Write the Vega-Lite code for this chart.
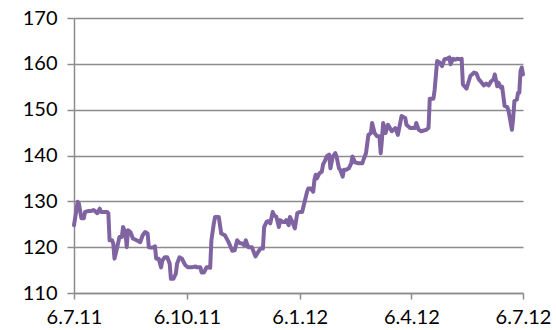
{
  "$schema": "https://vega.github.io/schema/vega-lite/v6.json",
  "width": 449,
  "height": 275,
  "autosize": {"type": "none"},
  "padding": {"left": 74, "top": 18, "right": 33, "bottom": 37},
  "background": "white",
  "config": {
    "view": {"stroke": null},
    "axis": {
      "domainColor": "#8c8c8c",
      "domainWidth": 1.5,
      "tickColor": "#8c8c8c",
      "tickWidth": 1.5,
      "gridColor": "#8c8c8c",
      "gridWidth": 1.5,
      "gridOpacity": 1,
      "labelFont": "Lato",
      "labelFontSize": 20,
      "labelColor": "#000000",
      "title": null
    }
  },
  "data": {
    "values": [
      {"date": "2011-07-06T00:00", "value": 124.8},
      {"date": "2011-07-08T00:00", "value": 128.1},
      {"date": "2011-07-09T00:00", "value": 129.9},
      {"date": "2011-07-10T00:00", "value": 129.5},
      {"date": "2011-07-12T00:00", "value": 126.3},
      {"date": "2011-07-14T00:00", "value": 126.3},
      {"date": "2011-07-15T00:00", "value": 127.7},
      {"date": "2011-07-18T00:00", "value": 127.9},
      {"date": "2011-07-20T00:00", "value": 127.9},
      {"date": "2011-07-22T00:00", "value": 128.1},
      {"date": "2011-07-23T00:00", "value": 127.9},
      {"date": "2011-07-25T00:00", "value": 127.4},
      {"date": "2011-07-27T00:00", "value": 128.4},
      {"date": "2011-07-28T00:00", "value": 127.7},
      {"date": "2011-07-30T00:00", "value": 127.7},
      {"date": "2011-08-02T00:00", "value": 127.7},
      {"date": "2011-08-03T00:00", "value": 127.4},
      {"date": "2011-08-04T00:00", "value": 121.5},
      {"date": "2011-08-06T00:00", "value": 121.5},
      {"date": "2011-08-07T00:00", "value": 120.8},
      {"date": "2011-08-08T00:00", "value": 117.5},
      {"date": "2011-08-10T00:00", "value": 119.7},
      {"date": "2011-08-12T00:00", "value": 122.2},
      {"date": "2011-08-14T00:00", "value": 122.2},
      {"date": "2011-08-15T00:00", "value": 124.4},
      {"date": "2011-08-17T00:00", "value": 123.0},
      {"date": "2011-08-18T00:00", "value": 120.0},
      {"date": "2011-08-19T00:00", "value": 123.7},
      {"date": "2011-08-21T00:00", "value": 123.3},
      {"date": "2011-08-23T00:00", "value": 121.9},
      {"date": "2011-08-26T00:00", "value": 121.5},
      {"date": "2011-08-29T00:00", "value": 121.1},
      {"date": "2011-08-31T00:00", "value": 122.6},
      {"date": "2011-09-02T00:00", "value": 123.3},
      {"date": "2011-09-04T00:00", "value": 123.0},
      {"date": "2011-09-05T00:00", "value": 120.0},
      {"date": "2011-09-07T00:00", "value": 119.9},
      {"date": "2011-09-09T00:00", "value": 120.0},
      {"date": "2011-09-10T00:00", "value": 120.2},
      {"date": "2011-09-11T00:00", "value": 117.5},
      {"date": "2011-09-13T00:00", "value": 117.5},
      {"date": "2011-09-15T00:00", "value": 115.6},
      {"date": "2011-09-16T00:00", "value": 117.1},
      {"date": "2011-09-18T00:00", "value": 117.8},
      {"date": "2011-09-20T00:00", "value": 117.8},
      {"date": "2011-09-22T00:00", "value": 116.4},
      {"date": "2011-09-23T00:00", "value": 113.1},
      {"date": "2011-09-25T00:00", "value": 113.1},
      {"date": "2011-09-27T00:00", "value": 114.2},
      {"date": "2011-09-28T00:00", "value": 116.4},
      {"date": "2011-09-30T00:00", "value": 117.8},
      {"date": "2011-10-02T00:00", "value": 117.5},
      {"date": "2011-10-04T00:00", "value": 116.4},
      {"date": "2011-10-05T00:00", "value": 116.0},
      {"date": "2011-10-07T00:00", "value": 115.6},
      {"date": "2011-10-10T00:00", "value": 115.6},
      {"date": "2011-10-13T00:00", "value": 115.8},
      {"date": "2011-10-14T00:00", "value": 115.6},
      {"date": "2011-10-17T00:00", "value": 115.6},
      {"date": "2011-10-18T00:00", "value": 114.5},
      {"date": "2011-10-20T00:00", "value": 114.5},
      {"date": "2011-10-22T00:00", "value": 115.6},
      {"date": "2011-10-23T00:00", "value": 115.6},
      {"date": "2011-10-25T00:00", "value": 115.5},
      {"date": "2011-10-26T00:00", "value": 121.5},
      {"date": "2011-10-28T00:00", "value": 125.2},
      {"date": "2011-10-29T00:00", "value": 126.6},
      {"date": "2011-10-31T00:00", "value": 126.6},
      {"date": "2011-11-01T00:00", "value": 126.6},
      {"date": "2011-11-03T00:00", "value": 123.0},
      {"date": "2011-11-06T00:00", "value": 122.6},
      {"date": "2011-11-09T00:00", "value": 121.1},
      {"date": "2011-11-12T00:00", "value": 119.2},
      {"date": "2011-11-14T00:00", "value": 119.3},
      {"date": "2011-11-16T00:00", "value": 121.5},
      {"date": "2011-11-18T00:00", "value": 120.9},
      {"date": "2011-11-20T00:00", "value": 120.8},
      {"date": "2011-11-22T00:00", "value": 120.4},
      {"date": "2011-11-23T00:00", "value": 121.5},
      {"date": "2011-11-25T00:00", "value": 120.0},
      {"date": "2011-11-28T00:00", "value": 120.0},
      {"date": "2011-11-30T00:00", "value": 118.6},
      {"date": "2011-12-01T00:00", "value": 118.0},
      {"date": "2011-12-03T00:00", "value": 118.9},
      {"date": "2011-12-05T00:00", "value": 119.7},
      {"date": "2011-12-07T00:00", "value": 119.7},
      {"date": "2011-12-08T00:00", "value": 124.4},
      {"date": "2011-12-10T00:00", "value": 125.5},
      {"date": "2011-12-11T00:00", "value": 125.7},
      {"date": "2011-12-13T00:00", "value": 125.2},
      {"date": "2011-12-15T00:00", "value": 127.7},
      {"date": "2011-12-16T00:00", "value": 127.0},
      {"date": "2011-12-18T00:00", "value": 126.6},
      {"date": "2011-12-20T00:00", "value": 124.4},
      {"date": "2011-12-21T00:00", "value": 125.9},
      {"date": "2011-12-23T00:00", "value": 125.5},
      {"date": "2011-12-25T00:00", "value": 125.5},
      {"date": "2011-12-26T00:00", "value": 125.9},
      {"date": "2011-12-28T00:00", "value": 124.8},
      {"date": "2011-12-29T00:00", "value": 126.6},
      {"date": "2011-12-31T00:00", "value": 125.5},
      {"date": "2012-01-02T00:00", "value": 124.1},
      {"date": "2012-01-04T00:00", "value": 127.4},
      {"date": "2012-01-06T00:00", "value": 127.7},
      {"date": "2012-01-08T00:00", "value": 127.7},
      {"date": "2012-01-09T00:00", "value": 128.8},
      {"date": "2012-01-10T00:00", "value": 129.9},
      {"date": "2012-01-12T00:00", "value": 132.1},
      {"date": "2012-01-13T00:00", "value": 132.8},
      {"date": "2012-01-15T00:00", "value": 132.8},
      {"date": "2012-01-17T00:00", "value": 132.1},
      {"date": "2012-01-18T00:00", "value": 134.7},
      {"date": "2012-01-19T00:00", "value": 135.8},
      {"date": "2012-01-20T00:00", "value": 135.0},
      {"date": "2012-01-22T00:00", "value": 136.1},
      {"date": "2012-01-24T00:00", "value": 136.5},
      {"date": "2012-01-25T00:00", "value": 138.0},
      {"date": "2012-01-27T00:00", "value": 139.1},
      {"date": "2012-01-28T00:00", "value": 139.8},
      {"date": "2012-01-30T00:00", "value": 140.2},
      {"date": "2012-01-31T00:00", "value": 137.2},
      {"date": "2012-02-02T00:00", "value": 139.8},
      {"date": "2012-02-04T00:00", "value": 140.5},
      {"date": "2012-02-05T00:00", "value": 139.8},
      {"date": "2012-02-07T00:00", "value": 137.2},
      {"date": "2012-02-08T00:00", "value": 136.9},
      {"date": "2012-02-10T00:00", "value": 135.4},
      {"date": "2012-02-11T00:00", "value": 136.9},
      {"date": "2012-02-13T00:00", "value": 136.9},
      {"date": "2012-02-15T00:00", "value": 137.2},
      {"date": "2012-02-17T00:00", "value": 138.3},
      {"date": "2012-02-18T00:00", "value": 139.8},
      {"date": "2012-02-20T00:00", "value": 138.5},
      {"date": "2012-02-23T00:00", "value": 138.3},
      {"date": "2012-02-26T00:00", "value": 138.3},
      {"date": "2012-02-27T00:00", "value": 139.1},
      {"date": "2012-02-29T00:00", "value": 140.5},
      {"date": "2012-03-02T00:00", "value": 144.5},
      {"date": "2012-03-04T00:00", "value": 144.9},
      {"date": "2012-03-05T00:00", "value": 147.1},
      {"date": "2012-03-07T00:00", "value": 144.9},
      {"date": "2012-03-09T00:00", "value": 144.2},
      {"date": "2012-03-11T00:00", "value": 144.2},
      {"date": "2012-03-12T00:00", "value": 140.5},
      {"date": "2012-03-13T00:00", "value": 143.4},
      {"date": "2012-03-14T00:00", "value": 147.1},
      {"date": "2012-03-16T00:00", "value": 144.9},
      {"date": "2012-03-18T00:00", "value": 146.7},
      {"date": "2012-03-21T00:00", "value": 145.3},
      {"date": "2012-03-24T00:00", "value": 146.0},
      {"date": "2012-03-26T00:00", "value": 144.5},
      {"date": "2012-03-29T00:00", "value": 148.6},
      {"date": "2012-04-01T00:00", "value": 148.2},
      {"date": "2012-04-02T00:00", "value": 146.7},
      {"date": "2012-04-05T00:00", "value": 146.0},
      {"date": "2012-04-09T00:00", "value": 146.0},
      {"date": "2012-04-10T00:00", "value": 147.1},
      {"date": "2012-04-12T00:00", "value": 145.6},
      {"date": "2012-04-14T00:00", "value": 145.3},
      {"date": "2012-04-18T00:00", "value": 145.6},
      {"date": "2012-04-20T00:00", "value": 146.0},
      {"date": "2012-04-21T00:00", "value": 152.4},
      {"date": "2012-04-24T00:00", "value": 152.4},
      {"date": "2012-04-25T00:00", "value": 154.4},
      {"date": "2012-04-27T00:00", "value": 160.6},
      {"date": "2012-04-29T00:00", "value": 160.3},
      {"date": "2012-05-01T00:00", "value": 159.5},
      {"date": "2012-05-03T00:00", "value": 161.0},
      {"date": "2012-05-05T00:00", "value": 161.1},
      {"date": "2012-05-07T00:00", "value": 161.4},
      {"date": "2012-05-08T00:00", "value": 159.9},
      {"date": "2012-05-10T00:00", "value": 161.1},
      {"date": "2012-05-12T00:00", "value": 160.9},
      {"date": "2012-05-13T00:00", "value": 161.1},
      {"date": "2012-05-16T00:00", "value": 161.0},
      {"date": "2012-05-17T00:00", "value": 161.1},
      {"date": "2012-05-18T00:00", "value": 155.5},
      {"date": "2012-05-21T00:00", "value": 154.6},
      {"date": "2012-05-22T00:00", "value": 155.5},
      {"date": "2012-05-24T00:00", "value": 157.3},
      {"date": "2012-05-27T00:00", "value": 158.1},
      {"date": "2012-05-29T00:00", "value": 157.9},
      {"date": "2012-05-31T00:00", "value": 156.6},
      {"date": "2012-06-02T00:00", "value": 156.0},
      {"date": "2012-06-04T00:00", "value": 155.3},
      {"date": "2012-06-06T00:00", "value": 155.7},
      {"date": "2012-06-08T00:00", "value": 155.3},
      {"date": "2012-06-10T00:00", "value": 156.2},
      {"date": "2012-06-12T00:00", "value": 156.6},
      {"date": "2012-06-13T00:00", "value": 157.7},
      {"date": "2012-06-15T00:00", "value": 155.1},
      {"date": "2012-06-16T00:00", "value": 155.9},
      {"date": "2012-06-18T00:00", "value": 154.8},
      {"date": "2012-06-19T00:00", "value": 155.0},
      {"date": "2012-06-21T00:00", "value": 150.8},
      {"date": "2012-06-23T00:00", "value": 150.6},
      {"date": "2012-06-24T00:00", "value": 150.0},
      {"date": "2012-06-25T00:00", "value": 148.6},
      {"date": "2012-06-27T00:00", "value": 145.6},
      {"date": "2012-06-28T00:00", "value": 148.2},
      {"date": "2012-06-29T00:00", "value": 151.9},
      {"date": "2012-07-01T00:00", "value": 152.2},
      {"date": "2012-07-02T00:00", "value": 153.7},
      {"date": "2012-07-03T00:00", "value": 153.7},
      {"date": "2012-07-04T00:00", "value": 158.4},
      {"date": "2012-07-05T00:00", "value": 159.2},
      {"date": "2012-07-06T00:00", "value": 157.7}
    ]
  },
  "mark": {"type": "line", "color": "#8064A2", "strokeWidth": 4, "strokeJoin": "round", "strokeCap": "round"},
  "encoding": {
    "x": {
      "field": "date",
      "type": "temporal",
      "scale": {"domain": [{"year": 2011, "month": 7, "date": 6}, {"year": 2012, "month": 7, "date": 6}]},
      "axis": {
        "values": [
          {"year": 2011, "month": 7, "date": 6},
          {"year": 2011, "month": 10, "date": 6},
          {"year": 2012, "month": 1, "date": 6},
          {"year": 2012, "month": 4, "date": 6},
          {"year": 2012, "month": 7, "date": 6}
        ],
        "format": "%-d.%-m.%y",
        "grid": false,
        "tickSize": 6,
        "labelPadding": 8,
        "labelFlush": false,
        "labelOverlap": false
      }
    },
    "y": {
      "field": "value",
      "type": "quantitative",
      "scale": {"domain": [110, 170], "nice": false, "zero": false},
      "axis": {
        "values": [110, 120, 130, 140, 150, 160, 170],
        "grid": true,
        "tickSize": 7,
        "labelPadding": 10
      }
    }
  }
}
